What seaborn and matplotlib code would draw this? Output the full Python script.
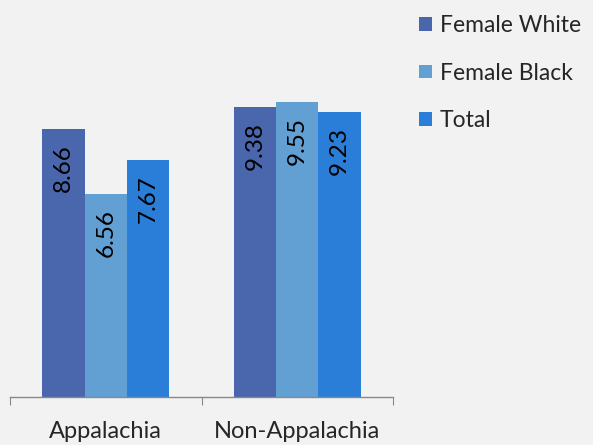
import matplotlib
matplotlib.use("Agg")
import matplotlib.pyplot as plt
import seaborn as sns
import pandas as pd

regions = ["Appalachia", "Non-Appalachia"]
series = ["Female White", "Female Black", "Total"]
female_white = [8.66, 9.38]
female_black = [6.56, 9.55]
total = [7.67, 9.23]
colors = ["#4a66ac", "#62a0d4", "#2a7ed8"]

rows = []
for s, vals in zip(series, [female_white, female_black, total]):
    for r, v in zip(regions, vals):
        rows.append({"Region": r, "Series": s, "Value": v})
df = pd.DataFrame(rows)

sns.set_style("white")
plt.rcParams['font.family'] = ['Lato', 'DejaVu Sans']
bg = "#f2f2f2"
fig = plt.figure(figsize=(5.93, 4.45), dpi=100, facecolor=bg)
ax = fig.add_axes([10/593, (445-397)/445, 383/593, (397-26)/445])
ax.set_facecolor(bg)

sns.barplot(data=df, x="Region", y="Value", hue="Series", palette=colors,
            width=0.663, saturation=1, ax=ax, legend=True, edgecolor="none")

for cont in ax.containers:
    for bar in cont:
        h = bar.get_height()
        ax.annotate(f"{h:.2f}", (bar.get_x() + bar.get_width()/2, h),
                    xytext=(0, -11), textcoords="offset points",
                    rotation=90, ha="center", va="top", fontsize=17.5, color="black")

ax.set_ylim(0, 12)
ax.set_xlim(-0.5, 1.5)
for sp in ["top", "right", "left"]:
    ax.spines[sp].set_visible(False)
ax.spines["bottom"].set_color("#888888")
ax.spines["bottom"].set_linewidth(1)
ax.set_yticks([])
ax.set_xticks([-0.5, 0.5, 1.5], minor=False)
ax.set_xticklabels([])
ax.tick_params(axis="x", which="major", direction="out", length=6, color="#888888", bottom=True)
ax.set_xticks([0, 1], minor=True)
ax.set_xticklabels(regions, minor=True, fontsize=17)
ax.tick_params(axis="x", which="minor", length=0, pad=17)
ax.set_xlabel("")
ax.set_ylabel("")

leg = ax.legend(loc="upper left", bbox_to_anchor=(400/383, (397-6)/371), frameon=False,
                fontsize=16.5, handlelength=0.55, handleheight=0.55, handletextpad=0.35,
                labelspacing=1.15, borderaxespad=0)

fig.savefig("out.png", dpi=100, facecolor=bg)
